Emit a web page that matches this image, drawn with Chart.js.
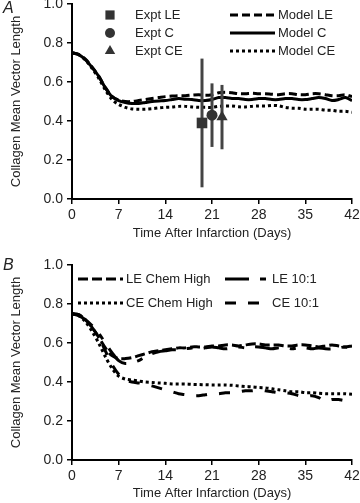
<!DOCTYPE html>
<html><head><meta charset="utf-8">
<script src="https://cdn.jsdelivr.net/npm/chart.js@4.4.0/dist/chart.umd.min.js"></script>
<style>
html,body{margin:0;padding:0;background:#fff;width:360px;height:503px;overflow:hidden;position:relative}
canvas{position:absolute;left:0}
#ca{top:-4px}
#cb{top:250px}
</style></head><body>
<canvas id="ca" width="360" height="254"></canvas>
<canvas id="cb" width="360" height="253"></canvas>
<script>
// ---------- DATA ----------
const days = [0,1,2,3,4,5,6,7,8,9,10,11,12,13,14,15,16,17,18,19,20,21,22,23,24,25,26,27,28,29,30,31,32,33,34,35,36,37,38,39,40,41,42];
const xTicks = [0,7,14,21,28,35,42];
const yTicks = [0.0,0.2,0.4,0.6,0.8,1.0];

// Panel A
const namesA = ['Model LE','Model C','Model CE'];
const modelLE = [0.75,0.742,0.717,0.677,0.63,0.572,0.527,0.507,0.50,0.50,0.505,0.51,0.515,0.52,0.525,0.528,0.53,0.53,0.533,0.535,0.532,0.535,0.545,0.548,0.545,0.54,0.54,0.542,0.54,0.54,0.537,0.535,0.54,0.54,0.535,0.535,0.54,0.54,0.535,0.53,0.53,0.535,0.525];
const modelC  = [0.75,0.74,0.715,0.675,0.63,0.57,0.525,0.505,0.495,0.49,0.49,0.495,0.50,0.503,0.505,0.51,0.515,0.512,0.51,0.505,0.505,0.51,0.52,0.52,0.515,0.515,0.51,0.51,0.515,0.515,0.51,0.51,0.515,0.515,0.51,0.51,0.515,0.52,0.515,0.505,0.51,0.52,0.505];
const modelCE = [0.75,0.74,0.713,0.67,0.62,0.56,0.51,0.485,0.47,0.462,0.46,0.46,0.463,0.467,0.47,0.472,0.475,0.475,0.472,0.47,0.47,0.47,0.475,0.477,0.477,0.473,0.472,0.475,0.477,0.477,0.48,0.478,0.47,0.466,0.465,0.46,0.46,0.46,0.456,0.455,0.45,0.45,0.445];

const exptNames = ['Expt LE','Expt C','Expt CE'];
const exptDay  = [19.5, 21, 22.5];
const exptMean = [0.39, 0.43, 0.42];
const exptSD   = [0.33, 0.163, 0.165];

// Panel B
const namesB = ['LE Chem High','CE Chem High','LE 10:1','CE 10:1'];
const leChemHigh = [0.75,0.745,0.72,0.68,0.63,0.575,0.535,0.52,0.52,0.525,0.535,0.545,0.555,0.56,0.565,0.57,0.575,0.575,0.58,0.58,0.58,0.585,0.585,0.59,0.59,0.585,0.59,0.595,0.595,0.59,0.59,0.59,0.585,0.585,0.59,0.59,0.585,0.58,0.585,0.59,0.585,0.58,0.585];
const ceChemHigh = [0.75,0.74,0.71,0.66,0.60,0.53,0.47,0.43,0.415,0.41,0.405,0.40,0.398,0.395,0.393,0.39,0.39,0.39,0.388,0.387,0.386,0.385,0.385,0.385,0.383,0.38,0.377,0.375,0.372,0.37,0.365,0.36,0.355,0.35,0.35,0.345,0.345,0.342,0.34,0.34,0.34,0.34,0.337];
const le10 = [0.75,0.74,0.72,0.69,0.65,0.60,0.55,0.51,0.495,0.50,0.51,0.53,0.545,0.555,0.56,0.565,0.565,0.57,0.575,0.57,0.575,0.58,0.575,0.57,0.575,0.58,0.575,0.58,0.58,0.575,0.57,0.575,0.575,0.57,0.575,0.575,0.57,0.575,0.57,0.57,0.575,0.58,0.57];
const ce10 = [0.75,0.745,0.72,0.68,0.63,0.56,0.49,0.44,0.41,0.40,0.395,0.39,0.38,0.37,0.36,0.35,0.34,0.335,0.33,0.33,0.335,0.34,0.34,0.345,0.345,0.35,0.355,0.355,0.36,0.355,0.35,0.345,0.345,0.34,0.33,0.325,0.33,0.32,0.30,0.31,0.31,0.305,0.31];

// ---------- STYLE / LAYOUT ----------
const FONT = '"Liberation Sans", Arial, sans-serif';
const TXT = '#222';

function pts(ys){ return days.map((d,i)=>({x:d,y:ys[i]})); }

function lineDS(label, ys, dash, order){
  return {type:'line', label, data:pts(ys), borderColor:'#000', borderWidth:3, borderDash:dash,
    borderCapStyle:'butt', pointRadius:0, tension:0.3, fill:false, order};
}

function scales(xH, titlePadB){
  return {
    x:{type:'linear', min:0, max:42,
      afterBuildTicks(s){ s.ticks = xTicks.map(v=>({value:v})); },
      ticks:{color:TXT, font:{family:FONT,size:14}, padding:3, maxRotation:0, autoSkip:false, callback:v=>String(v)},
      grid:{display:true, drawOnChartArea:false, drawTicks:true, tickLength:5, color:'#000', lineWidth:1.5},
      border:{display:true, color:'#000', width:2},
      title:{display:true, text:'Time After Infarction (Days)', color:TXT, font:{family:FONT,size:13}, padding:{top:0,bottom:titlePadB}},
      afterFit(s){ s.height = xH; s.paddingLeft=0; s.paddingRight=0; }
    },
    y:{type:'linear', min:0, max:1,
      afterBuildTicks(s){ s.ticks = yTicks.map(v=>({value:v})); },
      ticks:{color:TXT, font:{family:FONT,size:14}, padding:4, callback:v=>Number(v).toFixed(1)},
      grid:{display:true, drawOnChartArea:false, drawTicks:true, tickLength:5, color:'#000', lineWidth:1.5},
      border:{display:true, color:'#000', width:2},
      title:{display:true, text:'Collagen Mean Vector Length', color:TXT, font:{family:FONT,size:13}, padding:{top:9,bottom:0}},
      afterFit(s){ s.width = 72; s.paddingTop=0; s.paddingBottom=0; }
    }
  };
}

function drawMarker(ctx, style, x, y, r){
  ctx.beginPath();
  if(style==='rect'){ const s=r*Math.SQRT1_2; ctx.rect(x-s,y-s,2*s,2*s); }
  else if(style==='circle'){ ctx.arc(x,y,r,0,Math.PI*2); }
  else { ctx.moveTo(x, y-r); ctx.lineTo(x+r*0.866, y+r*0.5); ctx.lineTo(x-r*0.866, y+r*0.5); ctx.closePath(); }
  ctx.fill();
}

const annot = {
  id:'annot',
  afterDraw(chart, args, o){
    const ctx = chart.ctx;
    ctx.save();
    ctx.fillStyle = TXT;
    ctx.font = 'italic 16px ' + FONT;
    ctx.textBaseline = 'middle'; ctx.textAlign = 'left';
    ctx.fillText(o.panel, 3, o.panelY);
    ctx.font = '13px ' + FONT;
    for(const it of o.items){
      if(it.kind==='line'){
        ctx.save();
        ctx.strokeStyle='#000'; ctx.lineWidth=3; ctx.lineCap='butt'; ctx.setLineDash(it.dash);
        ctx.beginPath(); ctx.moveTo(it.x0,it.y); ctx.lineTo(it.x1,it.y); ctx.stroke();
        ctx.restore();
      } else {
        ctx.fillStyle = '#333';
        drawMarker(ctx, it.style, it.mx, it.y, it.r);
      }
      ctx.fillStyle = TXT;
      ctx.fillText(it.label, it.tx, it.y);
    }
    ctx.restore();
  }
};

// ---------- CHART A ----------
const markerStyles = ['rect','circle','triangle'];
const markerR = [7.5,5.5,6.5];
const dsA = [
  lineDS(namesA[0], modelLE, [8,4], 3),
  lineDS(namesA[1], modelC, [], 3),
  lineDS(namesA[2], modelCE, [3,3], 3)
];
exptDay.forEach((d,i)=>{
  dsA.push({type:'line', label:exptNames[i]+' SD', data:[{x:d,y:exptMean[i]-exptSD[i]},{x:d,y:exptMean[i]+exptSD[i]}],
    borderColor:'#444', borderWidth:3, pointRadius:0, order:2});
  dsA.push({type:'scatter', label:exptNames[i], data:[{x:d,y:exptMean[i]}], backgroundColor:'#333', borderColor:'#333',
    borderWidth:0, pointStyle:markerStyles[i], pointRadius:markerR[i], order:1});
});

new Chart(document.getElementById('ca'), {
  data:{datasets:dsA},
  options:{responsive:false, animation:false, devicePixelRatio:1,
    layout:{padding:{left:0,right:8,top:8,bottom:0}},
    plugins:{legend:{display:false}, tooltip:{enabled:false},
      annot:{panel:'A', panelY:13, items:[
        {kind:'marker', style:'rect', mx:110, r:6.5, y:19, tx:135, label:exptNames[0]},
        {kind:'marker', style:'circle', mx:110, r:5, y:37, tx:135, label:exptNames[1]},
        {kind:'marker', style:'triangle', mx:110, r:6, y:55, tx:135, label:exptNames[2]},
        {kind:'line', dash:[8,4], x0:230, x1:275, y:19, tx:278, label:namesA[0]},
        {kind:'line', dash:[], x0:230, x1:275, y:37, tx:278, label:namesA[1]},
        {kind:'line', dash:[3,3], x0:230, x1:275, y:55, tx:278, label:namesA[2]}
      ]}},
    scales:scales(51, 9)
  },
  plugins:[annot]
});

// ---------- CHART B ----------
const dashesB = [[10,4],[3,3],[24,11,6,11],[11,12]];
const seriesB = [leChemHigh, ceChemHigh, le10, ce10];
const dsB = seriesB.map((s,i)=>lineDS(namesB[i], s, dashesB[i], 1));

new Chart(document.getElementById('cb'), {
  data:{datasets:dsB},
  options:{responsive:false, animation:false, devicePixelRatio:1,
    layout:{padding:{left:0,right:8,top:15,bottom:0}},
    plugins:{legend:{display:false}, tooltip:{enabled:false},
      annot:{panel:'B', panelY:16, items:[
        {kind:'line', dash:dashesB[0], x0:78, x1:123, y:29, tx:126, label:namesB[0]},
        {kind:'line', dash:dashesB[1], x0:78, x1:123, y:53, tx:126, label:namesB[1]},
        {kind:'line', dash:dashesB[2], x0:225, x1:267, y:29, tx:272, label:namesB[2]},
        {kind:'line', dash:dashesB[3], x0:225, x1:260, y:53, tx:272, label:namesB[3]}
      ]}},
    scales:scales(43, 2)
  },
  plugins:[annot]
});
</script>
</body></html>
